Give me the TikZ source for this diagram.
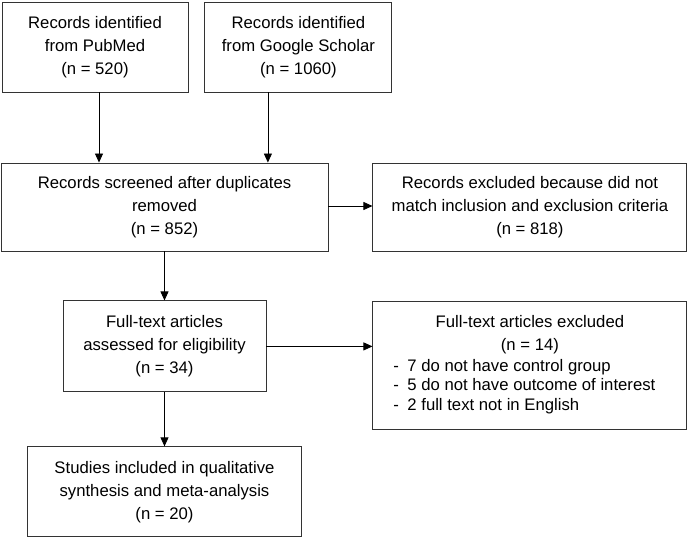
\documentclass[tikz,border=0pt]{standalone}
\usepackage{fontspec}
\setmainfont{Liberation Sans}
\usetikzlibrary{positioning,arrows.meta,calc}

\begin{document}
\begin{tikzpicture}[
    x=1pt, y=1pt,
    font=\fontsize{16.7}{23}\selectfont,
    box/.style={rectangle, draw=black!80, line width=0.9pt, align=center, inner sep=0pt},
    arrow/.style={-{Triangle[length=9pt,width=8pt]}, line width=0.8pt}
  ]
  \useasboundingbox (0,0) rectangle (688,-538);

  \node[box, minimum width=186pt, minimum height=90pt] (pubmed) at (95,-47) {Records identified\\from PubMed\\(n = 520)};
  \node[box, minimum width=187pt, minimum height=90pt, right=16pt of pubmed] (scholar) {Records identified\\from Google Scholar\\(n = 1060)};
  \node[box, minimum width=327pt, minimum height=88pt] (screened) at (164.5,-207) {Records screened after duplicates\\removed\\(n = 852)};
  \node[box, minimum width=314pt, minimum height=88pt, right=44pt of screened] (recexcl) {Records excluded because did not\\match inclusion and exclusion criteria\\(n = 818)};
  \node[box, minimum width=203pt, minimum height=91pt, below=49pt of screened] (fulltext) {Full-text articles\\assessed for eligibility\\(n = 34)};
  \node[box, minimum width=274pt, minimum height=90pt, below=54pt of fulltext] (included) {Studies included in qualitative\\synthesis and meta-analysis\\(n = 20)};
  \node[box, minimum width=314pt, minimum height=128pt, below=50pt of recexcl] (ftexcl) {Full-text articles excluded\\(n = 14)\\[2pt]
    {\fontsize{16.7}{19.5}\selectfont\begin{tabular}{@{}l@{\hspace{8.4pt}}l@{}}
      - & 7 do not have control group\\
      - & 5 do not have outcome of interest\\
      - & 2 full text not in English
    \end{tabular}}\hspace*{11pt}};

  \draw[arrow] ([xshift=4pt]pubmed.south) -- ([xshift=4pt]pubmed.south |- screened.north);
  \draw[arrow] ([xshift=-30.5pt]scholar.south) -- ([xshift=-30.5pt]scholar.south |- screened.north);
  \draw[arrow] ([yshift=1pt]screened.east) -- ([yshift=1pt]screened.east -| recexcl.west);
  \draw[arrow] (screened.south) -- (fulltext.north);
  \draw[arrow] (fulltext.east) -- (fulltext.east -| ftexcl.west);
  \draw[arrow] (fulltext.south) -- (included.north);

\end{tikzpicture}
\end{document}
